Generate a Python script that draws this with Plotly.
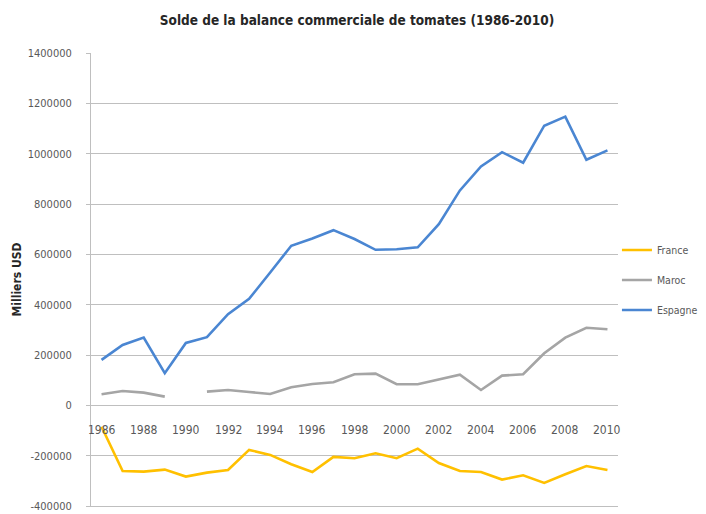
import plotly.graph_objects as go

years = list(range(1986, 2011))
france = [-85000, -261000, -263500, -255500, -283000, -267500, -257000, -177000, -197000, -234000,
          -265000, -205000, -210000, -190500, -210000, -172000, -229000, -261000, -265000, -295000,
          -278000, -308500, -274000, -241000, -257000]
maroc = [44000, 57000, 50500, 34600, None, 54500, 61000, 53000, 45000, 72000,
         85000, 92000, 123500, 126000, 84000, 84000, 104000, 122000, 61000, 118000,
         123500, 207000, 269000, 308000, 302500]
espagne = [180500, 240000, 269000, 127600, 248000, 271000, 362000, 423000, 528000, 634000,
           663000, 696000, 661000, 618000, 620000, 628000, 720000, 854000, 949000, 1006000,
           964000, 1111000, 1147000, 976000, 1013000]

y_ticks = [-400000, -200000, 0, 200000, 400000, 600000, 800000, 1000000, 1200000, 1400000]
y_tick_text = ["-400000", "-200000", "0", "200000", "400000", "600000", "800000", "1000000", "1200000", "1400000"]
x_label_years = list(range(1986, 2011, 2))

FONT = "DejaVu Sans Condensed, Liberation Sans Narrow, sans-serif"
GRID = "#BFBFBF"
TXT = "#595959"

fig = go.Figure()
for name, vals, col, grp in [("France", france, "#FFC000", "a"),
                             ("Maroc", maroc, "#A5A5A5", "b"),
                             ("Espagne", espagne, "#4A86D2", "c")]:
    fig.add_trace(go.Scatter(x=years, y=vals, mode="lines", name=name, legendgroup=grp,
                             line=dict(color=col, width=2.6), connectgaps=False))

for yr in x_label_years:
    fig.add_annotation(x=yr, y=0, xref="x", yref="y", text=str(yr), showarrow=False,
                       yanchor="top", yshift=-16, font=dict(family=FONT, size=12, color=TXT))

# the page body adds an 8px offset, so the figure is drawn 8px smaller
fig.update_layout(
    width=698, height=506,
    margin=dict(l=83, r=88, t=45, b=8, autoexpand=False),
    paper_bgcolor="white", plot_bgcolor="white",
    font=dict(family=FONT, size=12, color=TXT),
    title=dict(text="<b>Solde de la balance commerciale de tomates (1986-2010)</b>",
               x=0.5, xanchor="center", y=0.975, yanchor="middle",
               font=dict(family=FONT, size=13.5, color="#262626")),
    showlegend=True,
    legend=dict(x=0.998, xanchor="left", y=0.499, yanchor="middle",
                font=dict(family=FONT, size=10.5, color=TXT),
                tracegroupgap=11, itemwidth=30, bgcolor="rgba(0,0,0,0)"),
)
fig.update_xaxes(range=[1985.5, 2010.5], showticklabels=False, showgrid=False,
                 zeroline=False, showline=True, linecolor=GRID, linewidth=1, ticks="")
fig.update_yaxes(range=[-400000, 1400000], tickvals=y_ticks, ticktext=y_tick_text,
                 showgrid=True, gridcolor=GRID, gridwidth=1,
                 zeroline=True, zerolinecolor=GRID, zerolinewidth=1,
                 showline=True, linecolor=GRID, linewidth=1,
                 ticks="outside", ticklen=4, tickcolor=GRID, ticklabelstandoff=12,
                 tickfont=dict(family=FONT, size=11, color=TXT),
                 title=dict(text="<b>Milliers USD</b>", standoff=3,
                            font=dict(family=FONT, size=12, color="#262626")))

fig.write_html("out.html")
